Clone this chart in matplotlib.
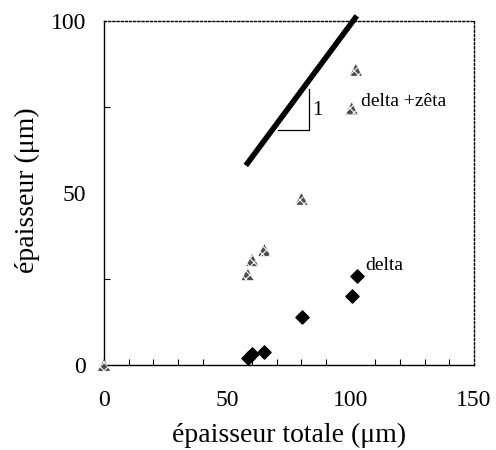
import matplotlib
matplotlib.use('Agg')
import matplotlib.pyplot as plt
import numpy as np

# delta + zeta layer
xDZ = [0, 58.2, 60.1, 65, 80.1, 100.4, 102.1]
yDZ = [0, 26.4, 30.5, 33.4, 48.3, 74.6, 85.8]
# delta layer
xD = [58.5, 60.1, 65, 80.1, 100.4, 102.7]
yD = [1.9, 3.2, 3.9, 13.9, 20.1, 25.9]
# slope 1 reference line
xLine = [57.5, 102.5]
yLine = [58.0, 101.5]

plt.rcParams['font.family'] = ['Liberation Serif', 'DejaVu Serif']
plt.rcParams['hatch.color'] = 'white'
plt.rcParams['hatch.linewidth'] = 0.8

fig = plt.figure(figsize=(4.96, 4.5), dpi=100)
ax = fig.add_axes([0.2097, 0.1889, 0.7459, 0.7644])

ax.plot(xLine, yLine, color='black', lw=4, solid_capstyle='butt', clip_on=False, zorder=3)
# slope triangle
ax.plot([70.4, 83.1, 83.1], [68.3, 68.3, 80.2], color='black', lw=0.9)
ax.text(84.5, 74, '1', fontsize=15, va='center', ha='left')

ax.scatter(xDZ, yDZ, marker='^', s=75, facecolor='0.3', edgecolor='none',
           hatch='xxxx', clip_on=False, zorder=4)
ax.scatter(xD, yD, marker='D', s=45, color='black', clip_on=False, zorder=4)

ax.text(104, 76.5, 'delta +zêta', fontsize=14, va='center')
ax.text(105.8, 29, 'delta', fontsize=14, va='center')

ax.set_xlim(0, 150)
ax.set_ylim(0, 100)
ax.set_xticks([0, 50, 100, 150])
ax.set_xticks(np.arange(0, 151, 10), minor=True)
ax.set_yticks([0, 50, 100])
ax.set_yticks([25, 75], minor=True)
ax.tick_params(which='both', direction='in', length=4, width=0.8, labelsize=17)
ax.tick_params(axis='x', which='major', pad=18, length=0)
ax.tick_params(axis='y', which='major', pad=13, length=0)

for s in ['top', 'right']:
    ax.spines[s].set_linestyle((0, (1.5, 1.5)))
    ax.spines[s].set_linewidth(1.0)
for s in ['left', 'bottom']:
    ax.spines[s].set_linewidth(1.0)

ax.set_xlabel('épaisseur totale (μm)', fontsize=20)
ax.set_ylabel('épaisseur (μm)', fontsize=20)
ax.xaxis.set_label_coords(0.5, -0.169)
ax.yaxis.set_label_coords(-0.173, 0.509)

plt.savefig('out.png', dpi=100)
